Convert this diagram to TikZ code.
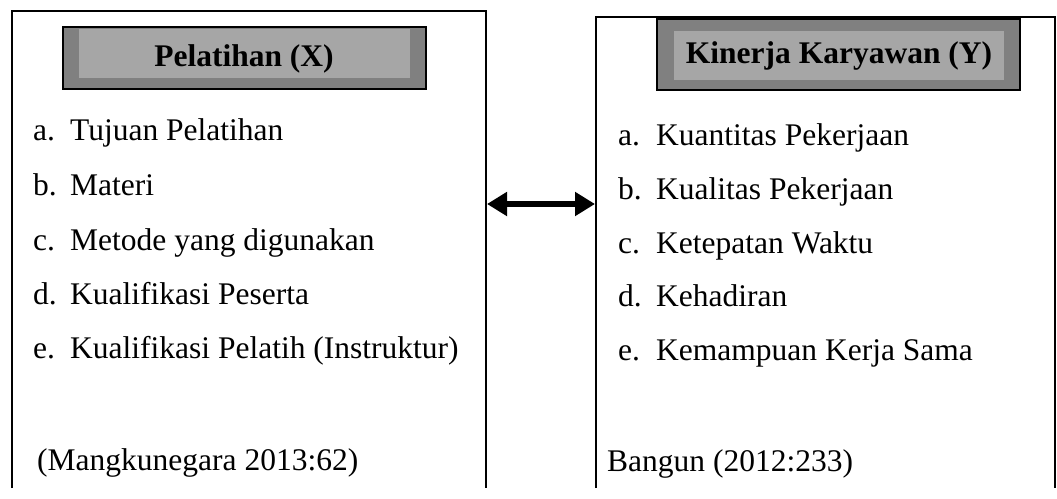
\documentclass[tikz,border=0pt]{standalone}
\usepackage{fontspec}
\setmainfont{Liberation Serif}
\usetikzlibrary{arrows.meta}
\definecolor{hdrdark}{HTML}{808080}
\definecolor{hdrlight}{HTML}{A6A6A6}
\begin{document}
\begin{tikzpicture}[x=1pt, y=-1pt,
    itemtext/.style={anchor=base west, inner sep=0pt, font=\fontsize{31.5}{38}\selectfont},
    hdrtext/.style={inner sep=0pt, anchor=base, font=\fontsize{31.5}{38}\selectfont\bfseries}]

\useasboundingbox (0,0) rectangle (1057,498);

\def\yB{488}  % where the frames leave the picture

% frames, open at the bottom
\draw[line width=1.8pt] (12,\yB) -- (12,11) -- (486,11) -- (486,\yB);
\draw[line width=1.8pt] (596,\yB) -- (596,17) -- (1055,17) -- (1055,\yB);

% header panels
\filldraw[fill=hdrdark, line width=1.5pt] (63,27) rectangle (426,89);
\fill[hdrlight] (79,29) rectangle (410,78);
\filldraw[fill=hdrdark, line width=1.5pt] (657,19) rectangle (1020,90);
\fill[hdrlight] (674,31) rectangle (1004,80);

\node[hdrtext] (titleX) at (244,66) {Pelatihan (X)};
\node[hdrtext] (titleY) at (839,63) {Kinerja Karyawan (Y)};

% indicators X
\node[itemtext] (xa) at (33,140) {a.};
\node[itemtext] (xat) at (70,140) {Tujuan Pelatihan};
\node[itemtext] (xb) at (33,195) {b.};
\node[itemtext] (xbt) at (70,195) {Materi};
\node[itemtext] (xc) at (33,250) {c.};
\node[itemtext] (xct) at (70,250) {Metode yang digunakan};
\node[itemtext] (xd) at (33,304) {d.};
\node[itemtext] (xdt) at (70,304) {Kualifikasi Peserta};
\node[itemtext] (xe) at (33,358) {e.};
\node[itemtext] (xet) at (70,358) {Kualifikasi Pelatih (Instruktur)};
\node[itemtext] (xsrc) at (37,470) {(Mangkunegara 2013:62)};

% indicators Y
\node[itemtext] (ya) at (618,145) {a.};
\node[itemtext] (yat) at (656,145) {Kuantitas Pekerjaan};
\node[itemtext] (yb) at (618,199) {b.};
\node[itemtext] (ybt) at (656,199) {Kualitas Pekerjaan};
\node[itemtext] (yc) at (618,253) {c.};
\node[itemtext] (yct) at (656,253) {Ketepatan Waktu};
\node[itemtext] (yd) at (618,306) {d.};
\node[itemtext] (ydt) at (656,306) {Kehadiran};
\node[itemtext] (ye) at (618,360) {e.};
\node[itemtext] (yet) at (656,360) {Kemampuan Kerja Sama};
\node[itemtext] (ysrc) at (607,471) {Bangun (2012:233)};

% relation
\coordinate (relX) at (487,204);
\coordinate (relY) at (595,204);
\draw[line width=6pt, {Triangle[length=20pt,width=23pt]}-{Triangle[length=20pt,width=23pt]}] (relX) -- (relY);
\end{tikzpicture}
\end{document}
